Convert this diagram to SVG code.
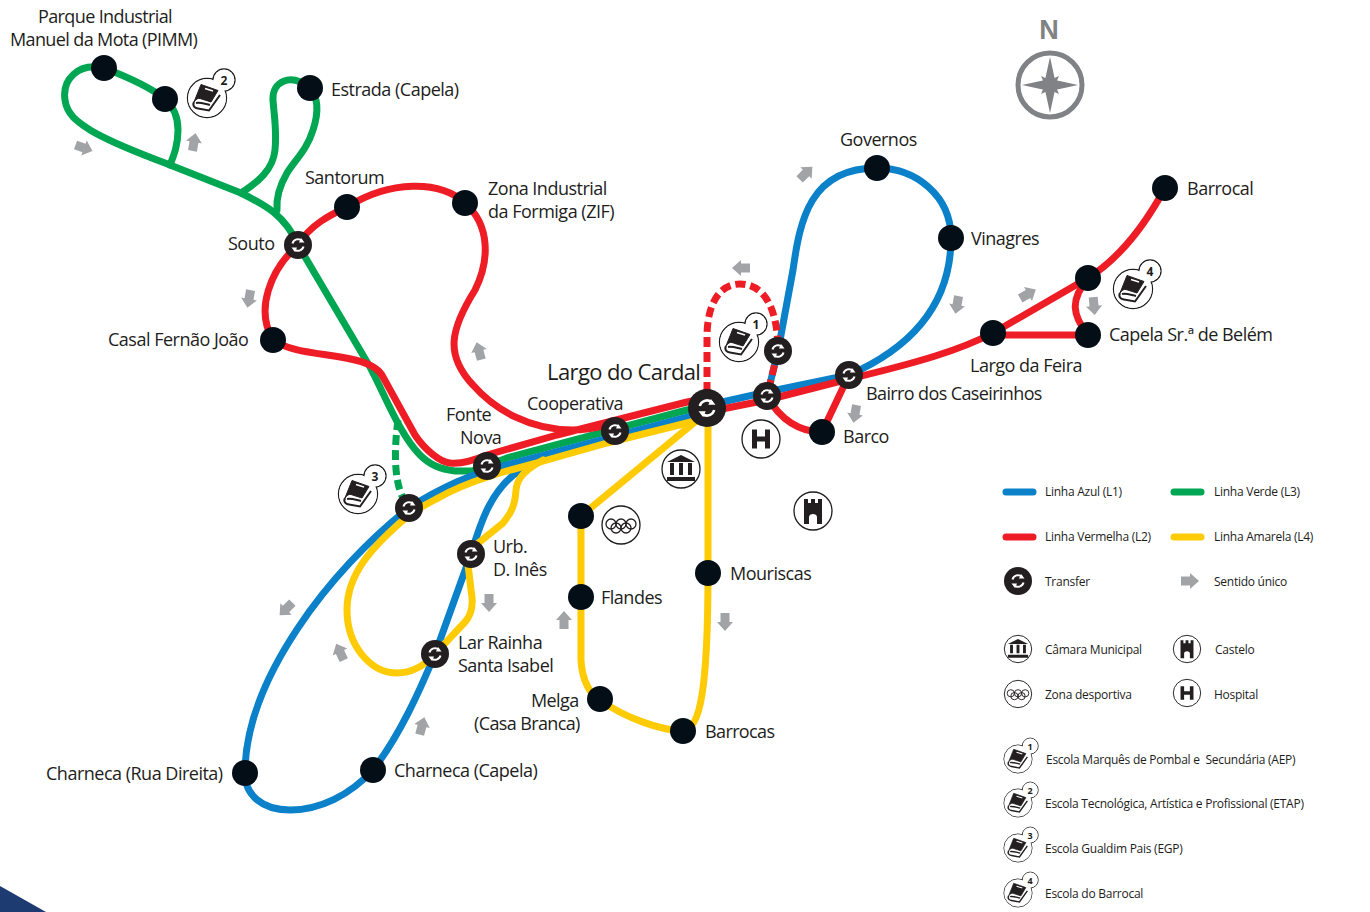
<svg xmlns="http://www.w3.org/2000/svg" width="1370" height="912" viewBox="0 0 1370 912">
<style>
text{font-family:"Open Sans","Noto Sans","Liberation Sans",sans-serif;fill:#1d1d1b}
.l{font-size:18px;letter-spacing:-.5px}
.t{letter-spacing:-.62px}
.s{font-size:12px;letter-spacing:-.26px}
.line{fill:none;stroke-width:7;stroke-linecap:round;stroke-linejoin:round}
.b{stroke:#0a81c9}.r{stroke:#ee1c25}.g{stroke:#00a651}.y{stroke:#ffcb05}
.dash{stroke-dasharray:10 5;stroke-linecap:butt}
.st{fill:#040e16}
.ar{fill:#a2a3a6}
.ic{fill:#fff;stroke:#1d1d1b;stroke-width:1.300}
.n{font-weight:700;text-anchor:middle}
</style>
<defs>
<g id="tr"><circle r="14" fill="#231f20"/><path d="M-5.500,-1.500A5.700,5.700 0 0 1 4,-4.200M5.500,1.500A5.700,5.700 0 0 1 -4,4.200" fill="none" stroke="#fff" stroke-width="2"/><path d="M3,-7L6.500,-2.500L1,-2.500ZM-3,7L-6.500,2.500L-1,2.500Z" fill="#fff"/></g>
<polygon id="arr" class="ar" points="-9,-4.500 0,-4.500 0,-8 9,0 0,8 0,4.500 -9,4.500"/>
<g id="book">
<circle class="ic" r="19.500"/><circle class="ic" cx="17" cy="-18" r="11"/>
<circle r="18.900" fill="#fff"/><circle cx="17" cy="-18" r="10.400" fill="#fff"/>
<path d="M-6,-13.500L11,-7.500L4,4L-7,0.500C-9,0 -11,1 -13,4Z" fill="#231f20" stroke="#231f20" stroke-linejoin="round"/>
<path d="M-2,-9.500L6,-7" stroke="#fff" stroke-width="1.500"/>
<path d="M-13,4C-15,8 -12,10 -9,10.500L2,12.500L13,-3M-11,5C-7,4 -2,6 3,7" fill="none" stroke="#231f20" stroke-width="2"/>
</g>
<g id="hosp"><circle class="ic" r="19"/><path d="M-6.500,-9.500V9.500M6.500,-9.500V9.500M-6.500,0H6.500" fill="none" stroke="#231f20" stroke-width="5"/></g>
<g id="cam"><circle class="ic" r="19"/><path d="M-14,-7L0,-14L14,-7ZM-14,8H14V12H-14ZM-11,-6H-7V6H-11ZM-2,-6H2V6H-2ZM7,-6H11V6H7Z" fill="#231f20"/></g>
<g id="cast"><circle class="ic" r="19"/><path d="M-9,13V-12H-5V-8H-2V-12H2V-8H5V-12H9V13H4V6C4,2 -4,2 -4,6V13Z" fill="#231f20"/></g>
<g id="olymp"><circle class="ic" r="19"/><g fill="none" stroke="#231f20" stroke-width="1.300"><circle cx="-10" cy="-1" r="5"/><circle cx="0" cy="-1" r="5"/><circle cx="10" cy="-1" r="5"/><circle cx="-5" cy="3" r="5"/><circle cx="5" cy="3" r="5"/></g></g>
</defs>

<path d="M0,886L46,912H0Z" fill="#1d3b70"/>

<g id="connectors">
<!-- green -->
<path class="line g" d="M104,68C78,62 62,80 65,100C67,115 78,122 90,130C115,145 145,155 170,165L241,193C265,205 285,215 298,245L370,367C385,395 400,435 420,455C430,465 440,469 455,471L472,471L507,458L687,410L707,406"/>
<path class="line g" d="M104,68C125,76 150,87 165,99C175,108 178,118 178,130C178,145 174,155 170,165"/>
<path class="line g" d="M310,88C290,72 272,82 273,100C274,115 277,130 275,150C273,170 258,182 241,193"/>
<path class="line g" d="M310,88C320,100 317,118 313,130C307,150 295,160 287,173C280,185 276,197 277,210"/>
<path class="line g dash" d="M398,420C394,450 394,480 403,498"/>
<path class="line g dash" d="M409,508L470,478"/>
<!-- blue -->
<path class="line b" d="M707,412L507,465C470,474 440,488 409,508C330,570 245,680 245,773C245,795 262,810 290,810C320,810 350,795 373,770C400,735 420,690 435,654L471,554C480,525 490,490 520,470"/>
<path class="line b" d="M700,407L767,392L849,375C890,357 951,320 951,238C951,195 915,168 877,168C810,168 800,220 793,270L778,351L767,396"/>
<!-- yellow -->
<path class="line y" d="M707,418L607,443L540,462C510,470 470,480 440,497C425,505 415,510 409,515C370,548 347,575 347,610C347,645 370,673 397,673C412,673 425,665 435,654L465,622C474,612 473,600 471,590L467,556"/>
<path class="line y" d="M543,460C525,470 517,478 516,490C515,505 512,512 503,523L471,549"/>
<path class="line y" d="M707,412L581,516V660C582,680 590,695 600,700C625,718 660,730 683,731C700,730 708,690 708,573V408"/>
<!-- red -->
<path class="line r" d="M1165,188C1145,225 1120,258 1088,278L993,333C960,350 920,362 849,379L767,400L707,412"/>
<path class="line r" d="M707,398L687,402L557,435L487,455C470,462 460,464 450,463C440,462 425,450 415,435L383,377C370,350 300,360 273,340C255,310 270,270 298,245C310,225 330,215 347,207C390,180 440,180 465,203C490,225 490,260 475,290C450,330 445,355 473,385C495,410 530,430 573,430C585,430 595,428 607,425"/>
<path class="line r" d="M767,396C780,420 800,432 822,432L849,375"/>
<path class="line r" d="M993,335L1088,335C1072,315 1070,300 1088,278"/>
<path class="line r dash" d="M707,392V337C707,303 720,284 740,284C765,284 778,310 778,351L767,396"/>
</g>

<g id="arrows">
<use href="#arr" transform="translate(84,148) rotate(20)"/>
<use href="#arr" transform="translate(194,142) rotate(-80)"/>
<use href="#arr" transform="translate(249,299) rotate(100)"/>
<use href="#arr" transform="translate(479,351) rotate(-105)"/>
<use href="#arr" transform="translate(806,173) rotate(-45)"/>
<use href="#arr" transform="translate(741,268) rotate(180)"/>
<use href="#arr" transform="translate(957,305) rotate(100)"/>
<use href="#arr" transform="translate(1028,294) rotate(-30)"/>
<use href="#arr" transform="translate(1094,306) rotate(85)"/>
<use href="#arr" transform="translate(855,414) rotate(100)"/>
<use href="#arr" transform="translate(725,622) rotate(90)"/>
<use href="#arr" transform="translate(564,620) rotate(-90)"/>
<use href="#arr" transform="translate(489,603) rotate(90)"/>
<use href="#arr" transform="translate(340,652) rotate(-115)"/>
<use href="#arr" transform="translate(286,609) rotate(135)"/>
<use href="#arr" transform="translate(422,726) rotate(-75)"/>
<use href="#arr" transform="translate(1190,581)"/>
</g>

<g id="pimm"><circle class="st" cx="104" cy="68" r="13"/><text class="l t"><tspan x="38" y="23">Parque Industrial</tspan><tspan x="10" y="46">Manuel da Mota (PIMM)</tspan></text></g>
<g id="pimm2"><circle class="st" cx="165" cy="99" r="13"/></g>
<g id="estrada"><circle class="st" cx="310" cy="88" r="13"/><text class="l" x="331" y="96">Estrada (Capela)</text></g>
<g id="santorum"><circle class="st" cx="347" cy="207" r="13"/><text class="l" x="305" y="184">Santorum</text></g>
<g id="zif"><circle class="st" cx="465" cy="203" r="13"/><text class="l"><tspan x="488" y="195">Zona Industrial</tspan><tspan x="488" y="218">da Formiga (ZIF)</tspan></text></g>
<g id="souto"><use href="#tr" x="298" y="245"/><text class="l" x="228" y="250">Souto</text></g>
<g id="casal"><circle class="st" cx="273" cy="340" r="13"/><text class="l" x="108" y="346">Casal Fernão João</text></g>
<g id="cardal"><circle cx="707" cy="408" r="19" fill="#231f20"/><use href="#tr" transform="translate(707,408) scale(1.300)"/><text x="547" y="380" font-size="22" letter-spacing="-.6">Largo do Cardal</text></g>
<g id="cooperativa"><use href="#tr" x="615" y="431"/><text class="l" x="527" y="410">Cooperativa</text></g>
<g id="fonte"><use href="#tr" x="487" y="466"/><text class="l"><tspan x="446" y="421">Fonte</tspan><tspan x="460" y="444">Nova</tspan></text></g>
<g id="t409"><use href="#tr" x="409" y="508"/></g>
<g id="urb"><use href="#tr" x="471" y="554"/><text class="l"><tspan x="493" y="553">Urb.</tspan><tspan x="493" y="576">D. Inês</tspan></text></g>
<g id="lar"><use href="#tr" x="435" y="654"/><text class="l"><tspan x="458" y="649">Lar Rainha</tspan><tspan x="458" y="672">Santa Isabel</tspan></text></g>
<g id="charneca1"><circle class="st" cx="245" cy="773" r="13"/><text class="l" x="46" y="780">Charneca (Rua Direita)</text></g>
<g id="charneca2"><circle class="st" cx="373" cy="770" r="13"/><text class="l" x="394" y="777">Charneca (Capela)</text></g>
<g id="s581"><circle class="st" cx="581" cy="516" r="13"/></g>
<g id="flandes"><circle class="st" cx="581" cy="597" r="13"/><text class="l" x="601" y="604">Flandes</text></g>
<g id="melga"><circle class="st" cx="600" cy="699" r="13"/><text class="l t"><tspan x="531" y="707">Melga</tspan><tspan x="474" y="730">(Casa Branca)</tspan></text></g>
<g id="barrocas"><circle class="st" cx="683" cy="731" r="13"/><text class="l t" x="705" y="738">Barrocas</text></g>
<g id="mouriscas"><circle class="st" cx="708" cy="573" r="13"/><text class="l" x="730" y="580">Mouriscas</text></g>
<g id="t778"><use href="#tr" x="778" y="351"/></g>
<g id="t767"><use href="#tr" x="767" y="396"/></g>
<g id="caseirinhos"><use href="#tr" x="849" y="375"/><text class="l t" x="866" y="400">Bairro dos Caseirinhos</text></g>
<g id="barco"><circle class="st" cx="822" cy="432" r="13"/><text class="l" x="843" y="443">Barco</text></g>
<g id="governos"><circle class="st" cx="877" cy="168" r="13"/><text class="l" x="840" y="146">Governos</text></g>
<g id="vinagres"><circle class="st" cx="951" cy="238" r="13"/><text class="l" x="971" y="245">Vinagres</text></g>
<g id="feira"><circle class="st" cx="993" cy="333" r="13"/><text class="l" x="970" y="372">Largo da Feira</text></g>
<g id="barrocal"><circle class="st" cx="1165" cy="188" r="13"/><text class="l" x="1187" y="195">Barrocal</text></g>
<g id="s1088"><circle class="st" cx="1088" cy="278" r="13"/></g>
<g id="belem"><circle class="st" cx="1088" cy="335" r="13"/><text class="l" x="1109" y="341">Capela Sr.ª de Belém</text></g>

<g id="pois">
<use href="#hosp" x="761" y="439"/><use href="#cam" x="681" y="469"/><use href="#cast" x="813" y="511"/><use href="#olymp" x="621" y="525"/>
<use href="#book" x="739" y="342"/><text class="n" x="756" y="329" font-size="12">1</text>
<use href="#book" x="207" y="98"/><text class="n" x="224" y="85" font-size="12">2</text>
<use href="#book" x="358" y="494"/><text class="n" x="375" y="481" font-size="12">3</text>
<use href="#book" x="1133" y="289"/><text class="n" x="1150" y="276" font-size="12">4</text>
</g>

<g id="compass" fill="#808285"><text x="1049" y="39" font-size="27" font-weight="700" text-anchor="middle" style="fill:#808285;font-family:'Liberation Sans',sans-serif">N</text>
<circle cx="1050" cy="85" r="32" fill="none" stroke="#808285" stroke-width="5"/>
<path d="M1050,57L1055,80L1078,85L1055,90L1050,113L1045,90L1022,85L1045,80Z"/><path d="M1041,76L1050,80L1059,76L1055,85L1059,94L1050,90L1041,94L1045,85Z"/></g>

<g id="legend">
<path class="line b" d="M1006,492H1033"/><text class="s" x="1045" y="496">Linha Azul (L1)</text>
<path class="line g" d="M1174,492H1201"/><text class="s" x="1214" y="496">Linha Verde (L3)</text>
<path class="line r" d="M1006,537H1033"/><text class="s" x="1045" y="541">Linha Vermelha (L2)</text>
<path class="line y" d="M1174,537H1201"/><text class="s" x="1214" y="541">Linha Amarela (L4)</text>
<use href="#tr" x="1018" y="581"/><text class="s" x="1045" y="586">Transfer</text>
<text class="s" x="1214" y="586">Sentido único</text>
<use href="#cam" transform="translate(1018,649) scale(.72)"/><text class="s" x="1045" y="654">Câmara Municipal</text>
<use href="#cast" transform="translate(1187,649) scale(.72)"/><text class="s" x="1215" y="654">Castelo</text>
<use href="#olymp" transform="translate(1018,694) scale(.72)"/><text class="s" x="1045" y="699">Zona desportiva</text>
<use href="#hosp" transform="translate(1187,693) scale(.72)"/><text class="s" x="1214" y="699">Hospital</text>
<use href="#book" transform="translate(1018,759) scale(.72)"/><text class="n" x="1030" y="750" font-size="9">1</text><text class="s" x="1046" y="764" letter-spacing="-.32">Escola Marquês de Pombal e &#160;Secundária (AEP)</text>
<use href="#book" transform="translate(1018,803) scale(.72)"/><text class="n" x="1030" y="794" font-size="9">2</text><text class="s" x="1045" y="808">Escola Tecnológica, Artística e Profissional (ETAP)</text>
<use href="#book" transform="translate(1018,848) scale(.72)"/><text class="n" x="1030" y="839" font-size="9">3</text><text class="s" x="1045" y="853">Escola Gualdim Pais (EGP)</text>
<use href="#book" transform="translate(1018,893) scale(.72)"/><text class="n" x="1030" y="884" font-size="9">4</text><text class="s" x="1045" y="898">Escola do Barrocal</text>
</g>
</svg>
